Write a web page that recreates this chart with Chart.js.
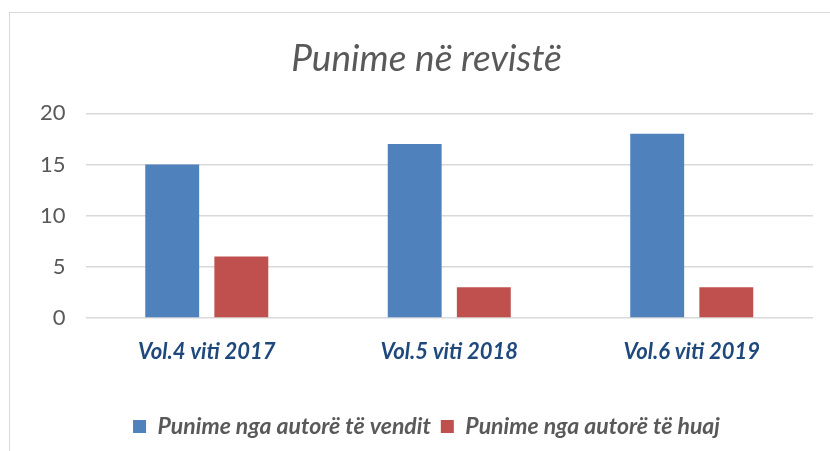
<!DOCTYPE html>
<html><head><meta charset="utf-8">
<script src="https://cdn.jsdelivr.net/npm/chart.js@4.4.1/dist/chart.umd.min.js"></script>
<style>
html,body{margin:0;padding:0;background:#fff;overflow:hidden}
#wrap{position:relative;width:830px;height:451px}
#frame{position:absolute;left:9px;top:12px;width:900px;height:500px;border:1px solid #d9d9d9;box-sizing:border-box}
canvas{position:absolute;left:0;top:0}
</style></head>
<body><div id="wrap"><div id="frame"></div><canvas id="c" width="830" height="451"></canvas></div>
<script>
const categories = ["Vol.4 viti 2017", "Vol.5 viti 2018", "Vol.6 viti 2019"];
const seriesNames = ["Punime nga autorë të vendit", "Punime nga autorë të huaj"];
const domestic = [15, 17, 18];
const foreign = [6, 3, 3];
const yTicks = [0, 5, 10, 15, 20];
const titleText = "Punime në revistë";

const FONT = "Lato, 'Open Sans', sans-serif";
new Chart(document.getElementById('c'), {
  type: 'bar',
  data: {
    labels: categories,
    datasets: [
      {label: seriesNames[0], data: domestic, backgroundColor: '#4f81bd', borderWidth: 0, categoryPercentage: 0.57, barPercentage: 0.78},
      {label: seriesNames[1], data: foreign, backgroundColor: '#c0504d', borderWidth: 0, categoryPercentage: 0.57, barPercentage: 0.78}
    ]
  },
  options: {
    responsive: false,
    animation: false,
    layout: {padding: {left: 40, right: 17, top: 37, bottom: 3}},
    plugins: {
      title: {display: true, text: titleText, color: '#595959',
        font: {family: FONT, size: 37, style: 'italic', weight: 'normal'}, padding: {top: 0, bottom: 32}},
      legend: {position: 'bottom', labels: {color: '#595959', usePointStyle: true, pointStyle: 'rect', boxWidth: 13, boxHeight: 13,
        font: {family: FONT, size: 23, style: 'italic', weight: 'bold'}, padding: 10}},
      tooltip: {enabled: false}
    },
    scales: {
      x: {grid: {display: false}, border: {display: false},
        afterFit: s => { s.height = 87; },
        ticks: {color: '#1f497d', padding: 13, font: {family: FONT, size: 22, style: 'italic', weight: 'bold'}}},
      y: {min: 0, max: 20, afterBuildTicks: ax => { ax.ticks = yTicks.map(v => ({value: v})); },
        grid: {color: '#d9d9d9', lineWidth: 1.5, drawTicks: true, tickLength: 20, tickColor: 'rgba(0,0,0,0)'}, border: {display: false},
        ticks: {color: '#595959', padding: 0, font: {family: FONT, size: 22}}}
    }
  }
});
</script></body></html>
